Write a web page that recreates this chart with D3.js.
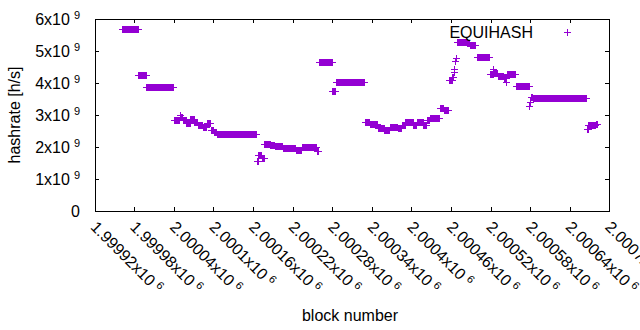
<!DOCTYPE html>
<html>
<head>
<meta charset="utf-8">
<script src="https://cdn.jsdelivr.net/npm/d3@7"></script>
<style>
  html, body { margin: 0; padding: 0; background: #fff; }
  svg { display: block; }
  text { font-family: "Liberation Sans", Arial, sans-serif; fill: #000; }
</style>
</head>
<body>
<svg id="chart" width="640" height="330"></svg>
<script>
// ---- data (block ranges with constant hashrate, h/s) ----
const runStart = [1999962,1999986,1999998,2000040,2000049,2000050,2000051,2000054,2000059,2000065,2000071,2000076,2000084,2000090,2000096,2000101,2000105,2000166,2000168,2000173,2000177,2000186,2000193,2000205,2000225,2000234,2000257,2000260,2000280,2000285,2000329,2000337,2000349,2000359,2000367,2000379,2000386,2000391,2000403,2000408,2000418,2000423,2000428,2000443,2000449,2000457,2000462,2000464,2000465,2000466,2000467,2000469,2000485,2000489,2000499,2000519,2000524,2000525,2000531,2000540,2000544,2000545,2000558,2000579,2000580,2000581,2000584,2000666,2000668,2000680];
const runEnd   = [1999985,1999997,2000039,2000048,2000049,2000050,2000053,2000058,2000064,2000070,2000075,2000083,2000089,2000095,2000100,2000104,2000165,2000167,2000172,2000176,2000185,2000192,2000204,2000224,2000233,2000256,2000259,2000279,2000284,2000328,2000336,2000348,2000358,2000366,2000378,2000385,2000390,2000402,2000407,2000417,2000422,2000427,2000442,2000448,2000456,2000461,2000463,2000464,2000465,2000466,2000468,2000484,2000488,2000496,2000518,2000523,2000524,2000530,2000539,2000543,2000544,2000557,2000578,2000579,2000580,2000583,2000665,2000667,2000679,2000682];
const runValue = [5.69e9,4.25e9,3.87e9,2.86e9,2.93e9,3.00e9,2.93e9,2.85e9,2.74e9,2.88e9,2.80e9,2.68e9,2.64e9,2.76e9,2.54e9,2.47e9,2.40e9,1.58e9,1.75e9,1.67e9,2.10e9,2.07e9,2.05e9,1.98e9,1.92e9,2.00e9,1.88e9,4.65e9,3.75e9,4.03e9,2.80e9,2.72e9,2.60e9,2.54e9,2.62e9,2.60e9,2.70e9,2.78e9,2.69e9,2.78e9,2.70e9,2.86e9,2.90e9,3.21e9,3.15e9,4.10e9,4.20e9,4.35e9,4.45e9,4.70e9,4.78e9,5.30e9,5.25e9,5.18e9,4.83e9,4.28e9,4.43e9,4.33e9,4.23e9,4.15e9,4.05e9,4.29e9,3.90e9,3.30e9,3.40e9,3.56e9,3.53e9,2.58e9,2.68e9,2.73e9];

const seriesName = "EQUIHASH";
const xTickValues = [1999920,1999980,2000040,2000100,2000160,2000220,2000280,2000340,2000400,2000460,2000520,2000580,2000640,2000700];
const xTickLabels = ["1.99992","1.99998","2.00004","2.0001","2.00016","2.00022","2.00028","2.00034","2.0004","2.00046","2.00052","2.00058","2.00064","2.0007"];
const yTickValues = [0,1e9,2e9,3e9,4e9,5e9,6e9];
const yTickLabels = ["0","1","2","3","4","5","6"];
const xTitle = "block number";
const yTitle = "hashrate [h/s]";

// ---- expand runs into one point per block ----
const points = [];
runStart.forEach((s, i) => {
  for (let b = s; b <= runEnd[i]; b++) points.push({ block: b, value: runValue[i] });
});

// ---- layout ----
const L = 94.7, R = 609.3, T = 19.3, B = 211;
const color = "#9400d3";
const svg = d3.select("#chart");

const x = d3.scaleLinear().domain([1999920, 2000700]).range([L, R]);
const y = d3.scaleLinear().domain([0, 6e9]).range([B, T]);

const tickLen = 4;
const axes = svg.append("g").attr("stroke", "#000").attr("stroke-width", 1).attr("shape-rendering", "crispEdges");

// ticks (mirrored)
xTickValues.forEach(v => {
  const px = Math.round(x(v)) + 0.5;
  axes.append("line").attr("x1", px).attr("x2", px).attr("y1", B).attr("y2", B - tickLen);
  axes.append("line").attr("x1", px).attr("x2", px).attr("y1", T).attr("y2", T + tickLen);
});
yTickValues.forEach(v => {
  const py = Math.round(y(v)) + 0.5;
  axes.append("line").attr("x1", L).attr("x2", L + tickLen).attr("y1", py).attr("y2", py);
  axes.append("line").attr("x1", R).attr("x2", R - tickLen).attr("y1", py).attr("y2", py);
});
// border
axes.append("rect")
  .attr("x", Math.round(L) + 0.5).attr("y", Math.round(T) + 0.5)
  .attr("width", Math.round(R) - Math.round(L)).attr("height", Math.round(B) - Math.round(T))
  .attr("fill", "none");

// y tick labels
yTickValues.forEach((v, i) => {
  const t = svg.append("text")
    .attr("x", 80).attr("y", y(v) + 5.5)
    .attr("text-anchor", "end").attr("font-size", 16);
  if (v === 0) {
    t.text(yTickLabels[i]);
  } else {
    t.append("tspan").text(yTickLabels[i] + "x10");
    t.append("tspan").attr("dx", 4).attr("dy", -5.5).attr("font-size", 11).text("9");
  }
});

// x tick labels (rotated)
xTickValues.forEach((v, i) => {
  const g = svg.append("g").attr("transform", `translate(${x(v) - 1},${B + 13}) rotate(45)`);
  const t = g.append("text").attr("x", 0).attr("y", 0).attr("dy", "0.35em")
    .attr("text-anchor", "start").attr("font-size", 16);
  t.append("tspan").text(xTickLabels[i] + "x10");
  t.append("tspan").attr("dx", 4).attr("dy", -5.5).attr("font-size", 11).text("6");
});

// axis titles
svg.append("text").attr("x", 350).attr("y", 321).attr("text-anchor", "middle")
  .attr("font-size", 16).text(xTitle);
svg.append("text").attr("transform", "translate(20,115) rotate(-90)")
  .attr("text-anchor", "middle").attr("font-size", 16).text(yTitle);

// points
const plus = (px, py, s) => `M${px - s},${py}H${px + s}M${px},${py - s}V${py + s}`;
svg.append("g").attr("stroke", color).attr("stroke-width", 1).attr("fill", "none")
  .attr("shape-rendering", "crispEdges")
  .selectAll("path").data(points).join("path")
  .attr("d", d => plus(Math.round(x(d.block)) + 0.5, Math.round(y(d.value)) + 0.5, 3.5));

// legend
svg.append("text").attr("x", 533).attr("y", 37.5).attr("text-anchor", "end")
  .attr("font-size", 16).text(seriesName);
svg.append("path").attr("stroke", color).attr("stroke-width", 1).attr("fill", "none")
  .attr("shape-rendering", "crispEdges")
  .attr("d", plus(567.5, 32.5, 3.5));
</script>
</body>
</html>
